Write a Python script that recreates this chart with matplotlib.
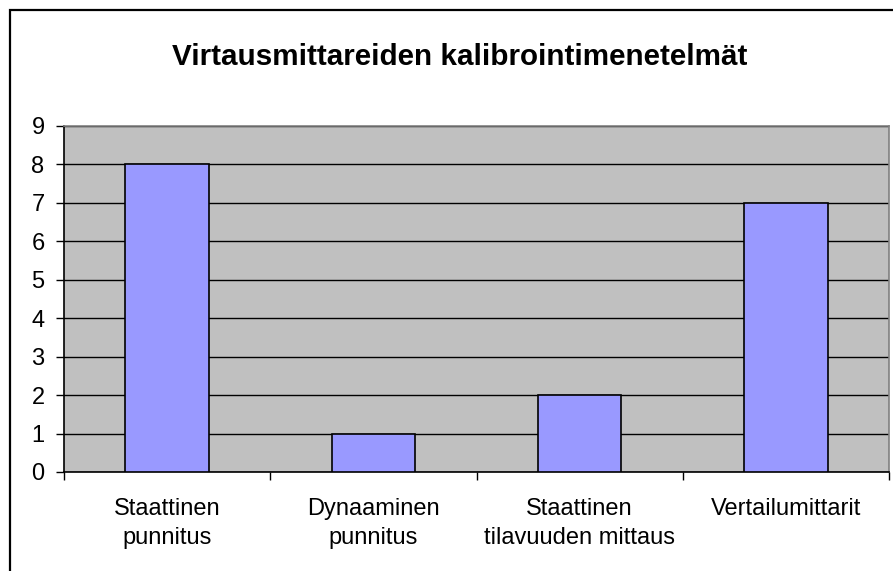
import matplotlib.pyplot as plt
from matplotlib.patches import Rectangle
import numpy as np

plt.rcParams["font.family"] = ["Liberation Sans", "DejaVu Sans"]

title = "Virtausmittareiden kalibrointimenetelmät"
categories = [
    "Staattinen\npunnitus",
    "Dynaaminen\npunnitus",
    "Staattinen\ntilavuuden mittaus",
    "Vertailumittarit",
]
values = [8, 1, 2, 7]
y_ticks = list(range(0, 10))

W, H = 893, 571
fig = plt.figure(figsize=(W / 100, H / 100), dpi=100)
fig.patch.set_facecolor("white")

# chart frame (only left/top edges fall inside the picture)
fig.patches.append(Rectangle((10 / W, -0.1), 1.2, 1 - 10 / H + 0.1,
                             transform=fig.transFigure, fill=False,
                             edgecolor="black", linewidth=1.6))

ax = fig.add_axes([64 / W, 1 - 472 / H, (889 - 64) / W, (472 - 126) / H])
ax.set_facecolor("#C0C0C0")

x = np.arange(len(categories))
ax.bar(x, values, width=0.404, color="#9999FF", edgecolor="black",
       linewidth=1.2, zorder=3)

ax.set_xlim(-0.5, len(categories) - 0.5)
ax.set_ylim(0, 9)
ax.set_yticks(y_ticks)
ax.yaxis.grid(True, color="black", linewidth=1.0, zorder=1)
ax.set_axisbelow(True)

ax.set_xticks(x)
ax.set_xticklabels(categories, fontsize=17, linespacing=1.38)
ax.set_xticks(np.arange(-0.5, len(categories)), minor=True)
ax.tick_params(axis="x", which="major", length=0, pad=19)
ax.tick_params(axis="x", which="minor", length=6, width=1, direction="out")
ax.tick_params(axis="y", length=6, width=1, pad=8, labelsize=17)

for s in ["top", "right"]:
    ax.spines[s].set_color("#808080")
    ax.spines[s].set_linewidth(1.2)
for s in ["left", "bottom"]:
    ax.spines[s].set_color("black")
    ax.spines[s].set_linewidth(1.2)

fig.text(460 / W, 1 - 65 / H, title, ha="center", va="baseline",
         fontsize=21.3, fontweight="bold")

fig.savefig("out.png", dpi=100)
